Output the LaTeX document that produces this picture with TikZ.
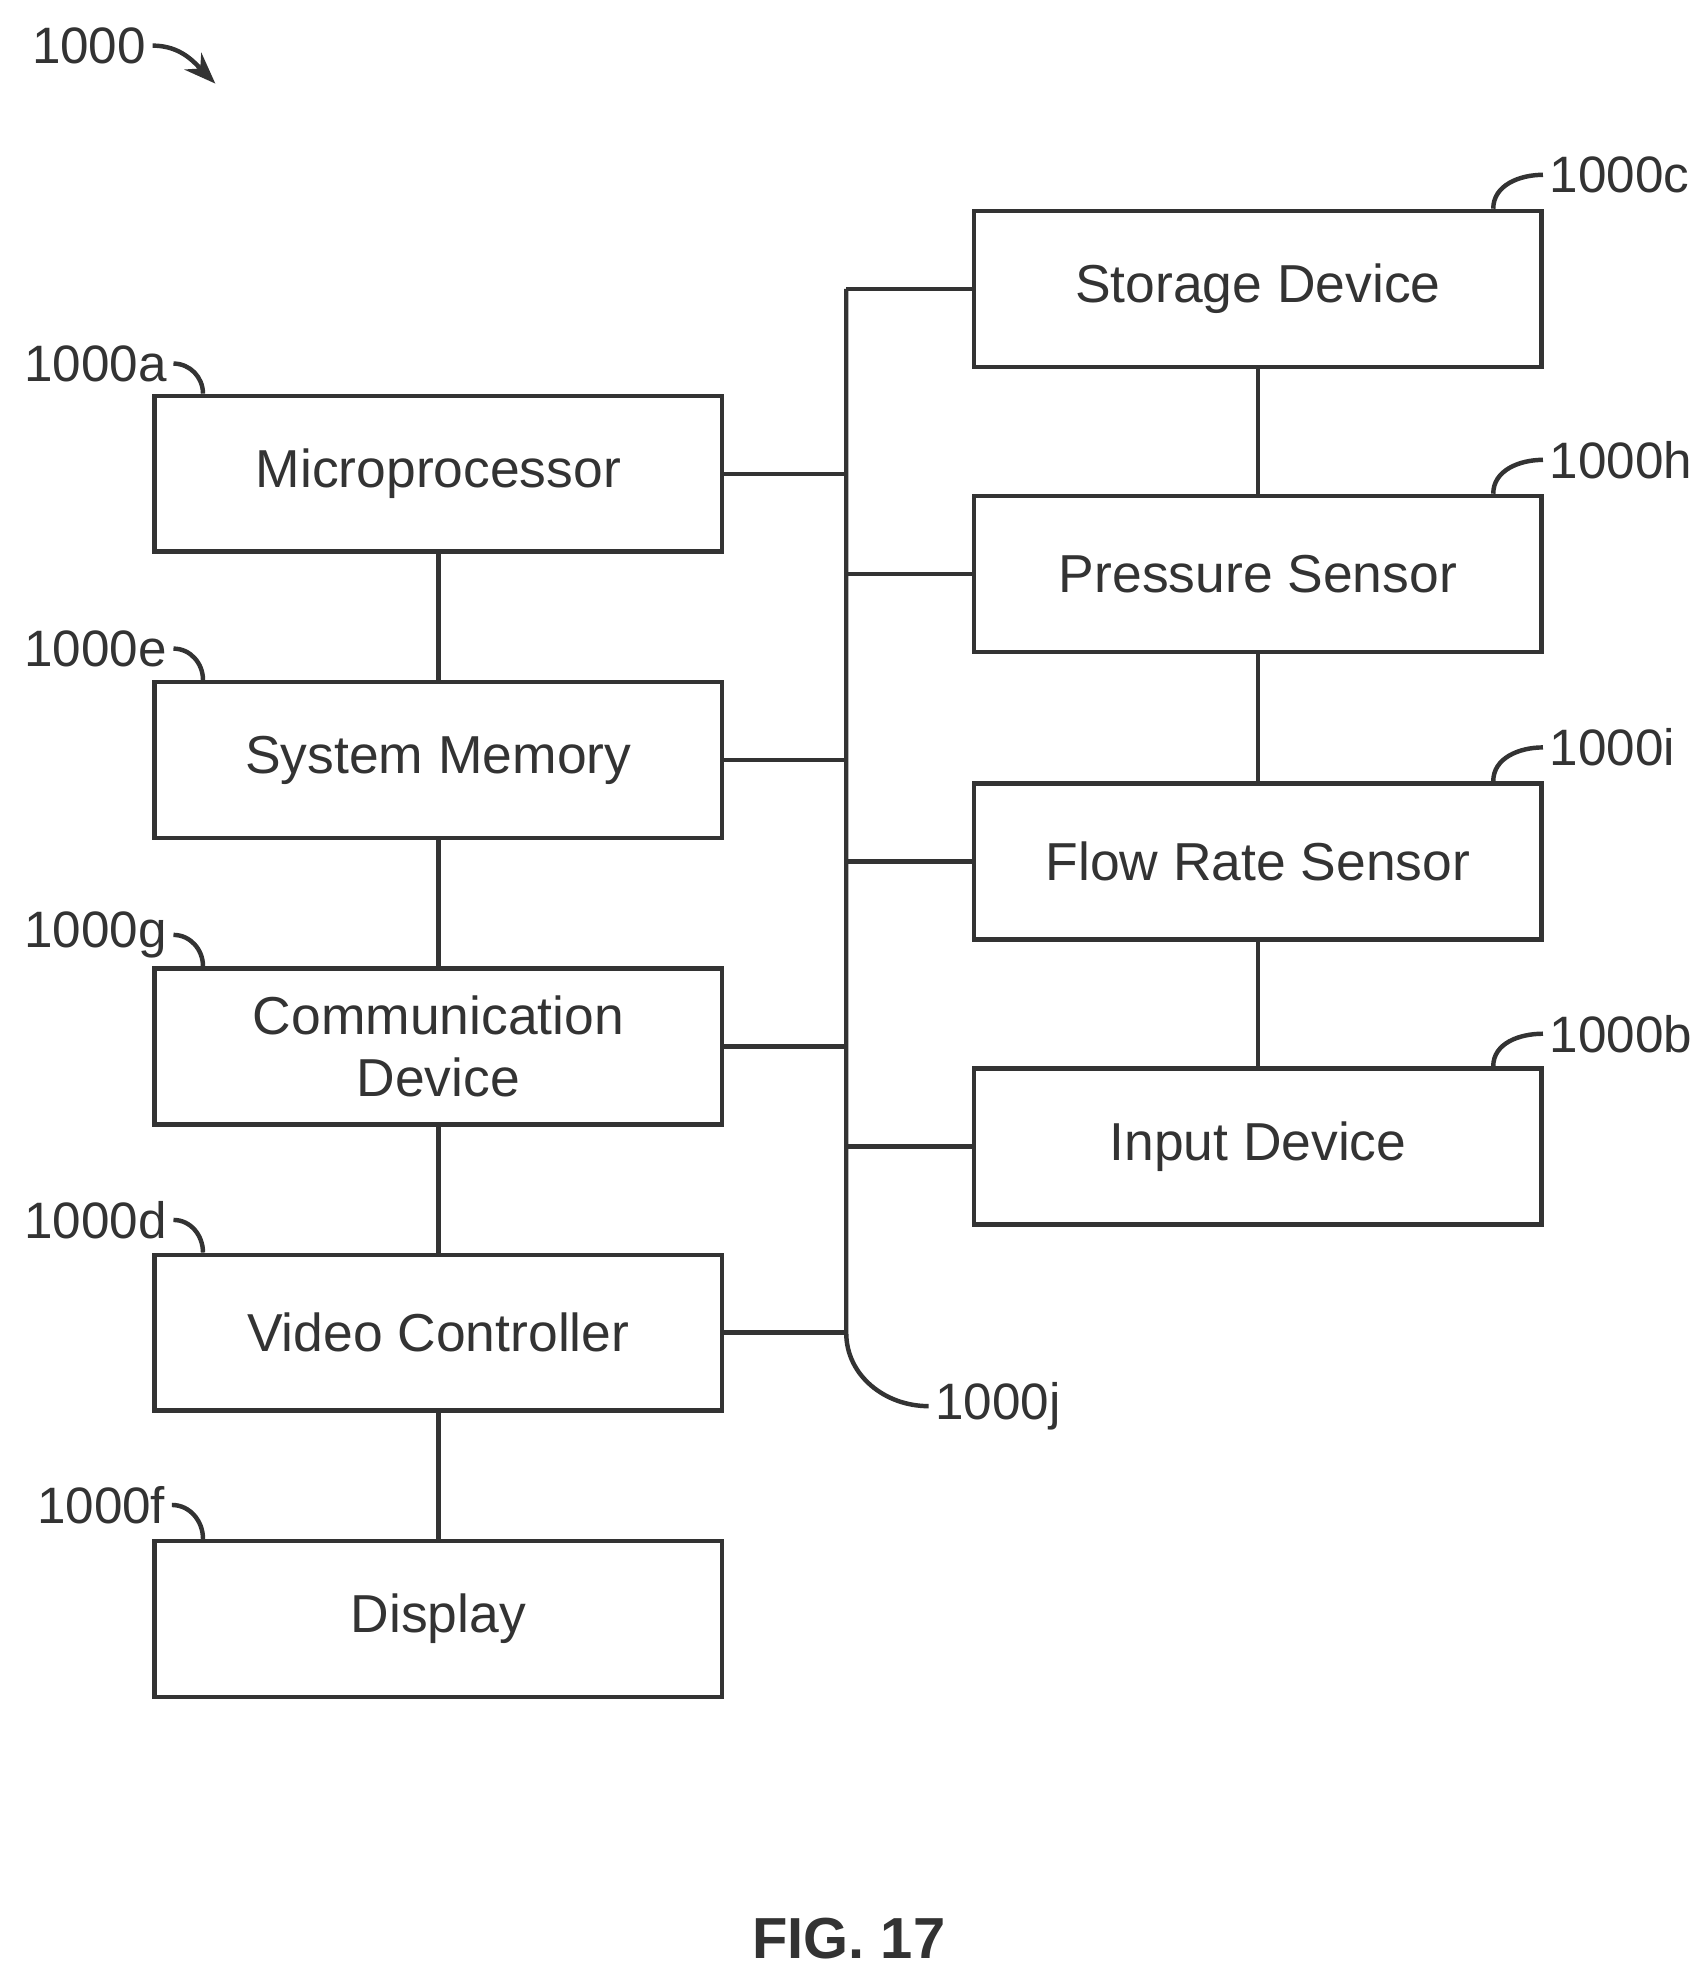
\documentclass[tikz,border=0pt]{standalone}
\usepackage{fontspec}
\setmainfont{Liberation Sans}
\usetikzlibrary{positioning,arrows.meta}

\begin{document}
\begin{tikzpicture}[x=0.1mm, y=-0.1mm, line width=1pt, draw=black!80]
	\useasboundingbox (0,0) rectangle (1340,1563);
	\begin{scope}[every node/.style={rectangle,draw=black!80,line width=1pt,minimum width=4.48cm,minimum height=1.23cm,align=center,font=\fontsize{12}{14}\selectfont,text=black!80}]
		\node (mp) at (346,374) {Microprocessor};
		\node (sm) at (346,600) {System Memory};
		\node (cd) at (346,826) {Communication\\Device};
		\node (vc) at (346,1052) {Video Controller};
		\node (dp) at (346,1278) {Display};
		\node (sd) at (993,228) {Storage Device};
		\node (ps) at (993,453) {Pressure Sensor};
		\node (fs) at (993,680) {Flow Rate Sensor};
		\node (id) at (993,905) {Input Device};
	\end{scope}
	\begin{scope}[every node/.style={font=\fontsize{11.5}{13}\selectfont,text=black!80,inner sep=1pt}]
		\node[anchor=west] (l0) at (20,36) {1000};
		\node[anchor=west] (la) at (14,287) {1000a};
		\node[anchor=west] (le) at (14,512) {1000e};
		\node[anchor=west] (lg) at (14,738) {1000g};
		\node[anchor=west] (ld) at (14,963) {1000d};
		\node[anchor=west] (lf) at (24,1188) {1000f};
		\node[anchor=west] (lc) at (1218,138) {1000c};
		\node[anchor=west] (lh) at (1218,363) {1000h};
		\node[anchor=west] (li) at (1218,590) {1000i};
		\node[anchor=west] (lb) at (1218,816) {1000b};
		\node[anchor=west] (lj) at (733,1110) {1000j};
		\node[font=\fontsize{13}{15}\bfseries\selectfont] (fig) at (670,1530) {FIG. 17};
	\end{scope}
	% bus
	\coordinate (btop) at (668,228);
	\coordinate (bbot) at (668,1052);
	\draw (btop) -- (bbot) to[out=-90,in=180] (lj.west);
	\foreach \n in {mp,sm,cd,vc}
		\draw (\n.east) -- (\n.east -| btop);
	\foreach \n in {sd,ps,fs,id}
		\draw (\n.west) -- (\n.west -| btop);
	% stacks
	\draw (mp) -- (sm) (sm) -- (cd) (cd) -- (vc) (vc) -- (dp);
	\draw (sd) -- (ps) (ps) -- (fs) (fs) -- (id);
	% leaders
	\foreach \l/\n in {la/mp,le/sm,lg/cd,ld/vc,lf/dp}
		\draw (\l.east) to[out=0,in=90] ([xshift=4mm]\n.north west);
	\foreach \l/\n in {lc/sd,lh/ps,li/fs,lb/id}
		\draw (\l.west) to[out=180,in=90] ([xshift=-4mm]\n.north east);
	\draw[-{Stealth[length=2.5mm]}] (l0.east) to[out=0,in=135] (170,66);
\end{tikzpicture}
\end{document}
